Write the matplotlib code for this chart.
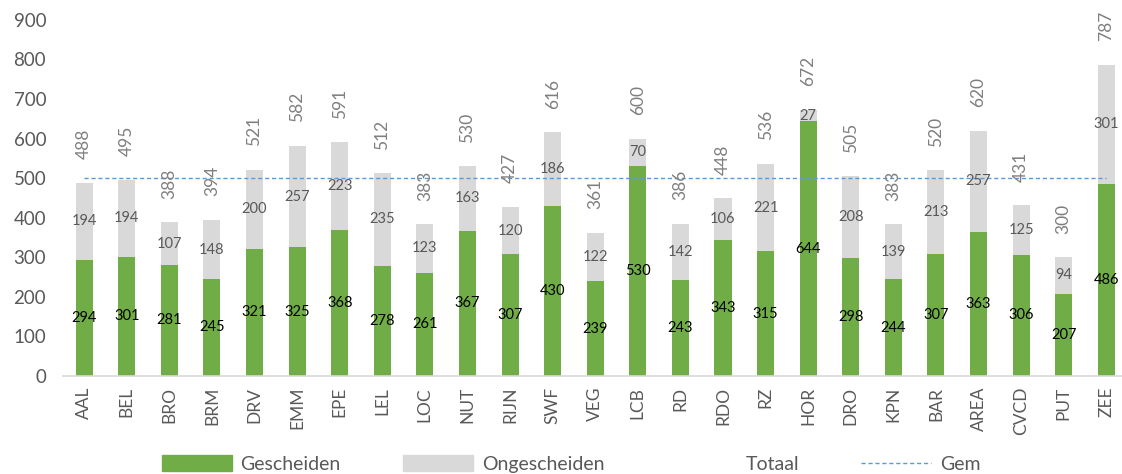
import matplotlib.pyplot as plt
from matplotlib.patches import Patch
from matplotlib.lines import Line2D
import numpy as np

plt.rcParams['font.family'] = ['Lato', 'DejaVu Sans']

regio = ["AAL", "BEL", "BRO", "BRM", "DRV", "EMM", "EPE", "LEL", "LOC", "NUT",
         "RIJN", "SWF", "VEG", "LCB", "RD", "RDO", "RZ", "HOR", "DRO", "KPN",
         "BAR", "AREA", "CVCD", "PUT", "ZEE"]
gescheiden = [294, 301, 281, 245, 321, 325, 368, 278, 261, 367, 307, 430, 239,
              530, 243, 343, 315, 644, 298, 244, 307, 363, 306, 207, 486]
ongescheiden = [194, 194, 107, 148, 200, 257, 223, 235, 123, 163, 120, 186, 122,
                70, 142, 106, 221, 27, 208, 139, 213, 257, 125, 94, 301]
totaal = [488, 495, 388, 394, 521, 582, 591, 512, 383, 530, 427, 616, 361,
          600, 386, 448, 536, 672, 505, 383, 520, 620, 431, 300, 787]
gem = 500

groen = "#70AD47"
grijs = "#D9D9D9"
blauw = "#5B9BD5"
tekst = "#595959"

x = np.arange(len(regio))
fig = plt.figure(figsize=(11.22, 4.74), dpi=100)
ax = fig.add_axes([0.056, 0.207, 0.949, 0.751])

b1 = ax.bar(x, gescheiden, width=0.4, color=groen)
b2 = ax.bar(x, ongescheiden, width=0.4, bottom=gescheiden, color=grijs)
ax.bar_label(b1, labels=[str(v) for v in gescheiden], label_type="center",
             fontsize=10.5, color="black")
ax.bar_label(b2, labels=[str(v) for v in ongescheiden], label_type="center",
             fontsize=10.5, color=tekst)

# totaal: onzichtbare reeks, alleen labels
ax.plot(x, totaal, linestyle="none")
for xi, t in zip(x, totaal):
    ax.annotate(str(t), (xi, t), xytext=(0, 17), textcoords="offset points",
                rotation=90, ha="center", va="bottom", fontsize=12.5, color="#7F7F7F")

ax.plot(x, [gem] * len(x), linestyle=(0, (3, 2)), color=blauw, linewidth=1)

ax.set_xlim(-0.5, len(regio) - 0.5)
ax.set_ylim(0, 900)
ax.set_yticks(range(0, 901, 100))
ax.set_xticks(x)
ax.set_xticklabels(regio, rotation=90)
ax.tick_params(axis="y", length=0, labelsize=13.5, colors=tekst, pad=12)
ax.tick_params(axis="x", length=0, labelsize=12.5, colors=tekst, pad=8)
for s in ["top", "right", "left"]:
    ax.spines[s].set_visible(False)
ax.spines["bottom"].set_color("#D9D9D9")
ax.spines["bottom"].set_linewidth(1.2)

handles = [Patch(color=groen), Patch(color=grijs),
           Line2D([], [], linestyle="none"),
           Line2D([], [], linestyle=(0, (3, 2)), color=blauw, linewidth=1)]
fig.legend(handles, ["Gescheiden", "Ongescheiden", "Totaal", "Gem"], ncol=4,
           loc="lower center", bbox_to_anchor=(0.509, -0.035), frameon=False,
           fontsize=14, labelcolor=tekst, handlelength=3.6, handleheight=0.9,
           handletextpad=0.45, columnspacing=3.2)

fig.savefig("out.png", dpi=100)
